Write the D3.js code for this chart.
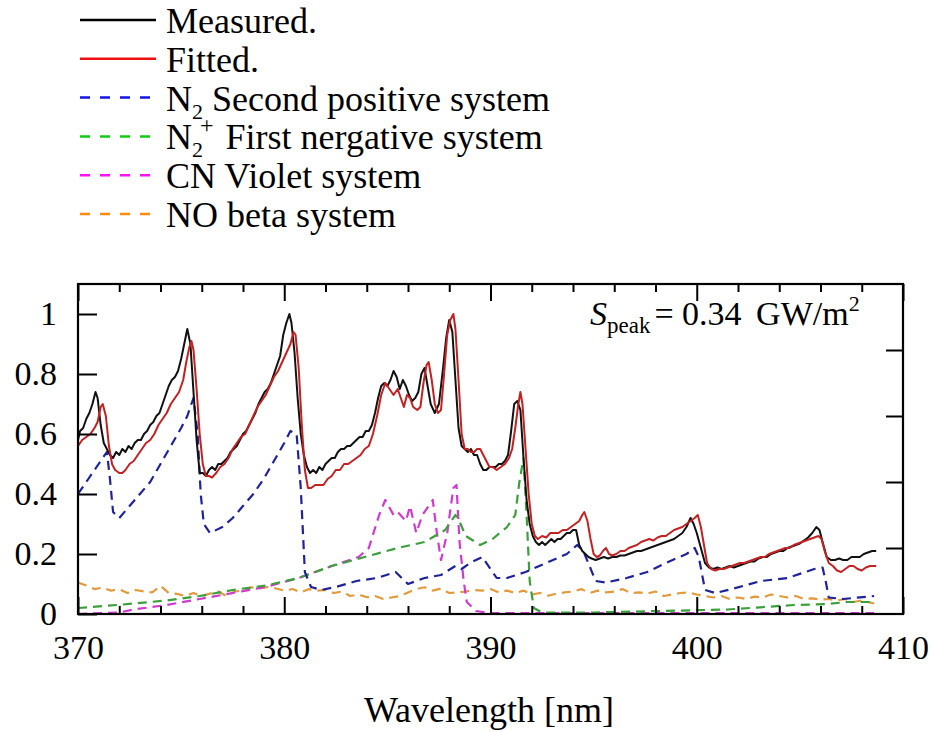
<!DOCTYPE html>
<html><head><meta charset="utf-8">
<script src="https://cdn.jsdelivr.net/npm/d3@7"></script>
<style>body{margin:0;background:#fff}svg{display:block}text{font-family:"Liberation Serif","Times New Roman",serif;fill:#000}</style>
</head><body><svg id="c" width="933" height="732"></svg>
<script>
// ---- data (wavelength nm, normalized intensity) ----
const measured = [[370.0,0.58],[370.1,0.61],[370.25,0.62],[370.4,0.65],[370.55,0.67],[370.7,0.70],[370.85,0.74],[370.95,0.72],[371.1,0.63],[371.25,0.57],[371.4,0.55],[371.55,0.53],[371.7,0.52],[371.85,0.54],[372.0,0.53],[372.15,0.55],[372.3,0.54],[372.45,0.56],[372.6,0.55],[372.75,0.57],[372.9,0.58],[373.05,0.58],[373.2,0.60],[373.35,0.61],[373.5,0.63],[373.65,0.64],[373.8,0.66],[373.95,0.67],[374.1,0.70],[374.25,0.73],[374.4,0.76],[374.55,0.78],[374.7,0.79],[374.85,0.81],[375.0,0.85],[375.15,0.90],[375.3,0.95],[375.45,0.90],[375.6,0.74],[375.75,0.58],[375.9,0.47],[376.05,0.47],[376.2,0.46],[376.35,0.48],[376.5,0.49],[376.65,0.48],[376.8,0.50],[376.95,0.50],[377.1,0.51],[377.25,0.52],[377.4,0.54],[377.55,0.55],[377.7,0.56],[377.85,0.58],[378.0,0.60],[378.15,0.61],[378.3,0.63],[378.45,0.65],[378.6,0.67],[378.75,0.70],[378.9,0.72],[379.05,0.74],[379.2,0.75],[379.35,0.77],[379.5,0.80],[379.65,0.83],[379.8,0.86],[379.95,0.93],[380.1,0.97],[380.25,1.00],[380.35,0.97],[380.5,0.87],[380.65,0.72],[380.8,0.60],[380.95,0.53],[381.1,0.49],[381.25,0.47],[381.4,0.48],[381.55,0.47],[381.7,0.49],[381.85,0.48],[382.0,0.50],[382.15,0.51],[382.3,0.52],[382.45,0.52],[382.6,0.54],[382.75,0.55],[382.9,0.55],[383.05,0.56],[383.2,0.56],[383.35,0.57],[383.5,0.58],[383.65,0.59],[383.8,0.59],[383.95,0.61],[384.1,0.61],[384.25,0.63],[384.4,0.67],[384.55,0.72],[384.7,0.76],[384.85,0.77],[385.0,0.76],[385.15,0.78],[385.3,0.81],[385.45,0.79],[385.6,0.75],[385.75,0.78],[385.9,0.76],[386.05,0.73],[386.2,0.71],[386.35,0.72],[386.5,0.74],[386.65,0.80],[386.8,0.82],[386.95,0.76],[387.1,0.70],[387.3,0.67],[387.5,0.70],[387.7,0.82],[387.85,0.92],[388.0,0.98],[388.15,0.94],[388.3,0.78],[388.45,0.62],[388.6,0.56],[388.75,0.55],[388.9,0.54],[389.05,0.55],[389.2,0.53],[389.35,0.53],[389.5,0.50],[389.65,0.48],[389.8,0.48],[389.95,0.49],[390.1,0.49],[390.25,0.49],[390.4,0.50],[390.55,0.50],[390.7,0.51],[390.85,0.53],[391.0,0.61],[391.15,0.70],[391.3,0.71],[391.45,0.68],[391.6,0.52],[391.75,0.38],[391.9,0.30],[392.05,0.26],[392.2,0.24],[392.35,0.23],[392.5,0.24],[392.65,0.23],[392.8,0.24],[392.95,0.25],[393.1,0.24],[393.25,0.25],[393.4,0.25],[393.55,0.26],[393.7,0.27],[393.85,0.27],[394.0,0.28],[394.15,0.28],[394.3,0.23],[394.45,0.21],[394.6,0.20],[394.75,0.19],[394.9,0.185],[395.1,0.18],[395.3,0.185],[395.5,0.19],[395.7,0.185],[395.9,0.19],[396.1,0.19],[396.3,0.195],[396.5,0.195],[396.7,0.20],[396.9,0.205],[397.1,0.21],[397.3,0.21],[397.5,0.215],[397.7,0.22],[397.9,0.225],[398.1,0.23],[398.3,0.235],[398.5,0.24],[398.7,0.245],[398.9,0.25],[399.1,0.26],[399.3,0.27],[399.5,0.29],[399.7,0.32],[399.85,0.30],[400.0,0.27],[400.2,0.22],[400.4,0.17],[400.6,0.155],[400.8,0.15],[401.0,0.155],[401.2,0.15],[401.4,0.155],[401.6,0.16],[401.8,0.155],[402.0,0.16],[402.2,0.165],[402.4,0.17],[402.6,0.175],[402.8,0.175],[403.0,0.185],[403.2,0.19],[403.4,0.19],[403.6,0.20],[403.8,0.205],[404.0,0.21],[404.2,0.21],[404.4,0.22],[404.6,0.225],[404.8,0.23],[405.0,0.235],[405.2,0.245],[405.4,0.255],[405.6,0.27],[405.8,0.29],[405.95,0.28],[406.1,0.24],[406.3,0.19],[406.5,0.18],[406.7,0.18],[406.9,0.185],[407.1,0.18],[407.3,0.18],[407.5,0.19],[407.7,0.19],[407.9,0.19],[408.1,0.20],[408.3,0.205],[408.5,0.21],[408.7,0.21]];

const fitted = [[370.0,0.56],[370.2,0.58],[370.4,0.59],[370.6,0.60],[370.8,0.62],[370.95,0.64],[371.1,0.69],[371.2,0.70],[371.35,0.66],[371.5,0.56],[371.65,0.50],[371.8,0.48],[372.0,0.47],[372.15,0.47],[372.3,0.48],[372.5,0.50],[372.7,0.51],[372.9,0.53],[373.1,0.55],[373.3,0.57],[373.5,0.58],[373.7,0.60],[373.9,0.63],[374.1,0.65],[374.3,0.67],[374.5,0.70],[374.7,0.72],[374.9,0.74],[375.1,0.78],[375.25,0.84],[375.4,0.89],[375.5,0.91],[375.6,0.88],[375.75,0.75],[375.9,0.60],[376.05,0.50],[376.2,0.46],[376.35,0.46],[376.5,0.455],[376.7,0.47],[376.9,0.49],[377.1,0.50],[377.3,0.52],[377.5,0.55],[377.7,0.57],[377.9,0.59],[378.1,0.60],[378.3,0.63],[378.5,0.66],[378.7,0.69],[378.9,0.71],[379.1,0.73],[379.3,0.76],[379.5,0.79],[379.7,0.81],[379.9,0.84],[380.1,0.87],[380.3,0.90],[380.45,0.94],[380.55,0.93],[380.7,0.82],[380.85,0.63],[381.0,0.48],[381.15,0.42],[381.3,0.42],[381.5,0.43],[381.7,0.43],[381.9,0.43],[382.1,0.45],[382.3,0.46],[382.5,0.48],[382.7,0.48],[382.9,0.50],[383.1,0.50],[383.3,0.51],[383.5,0.52],[383.7,0.53],[383.9,0.55],[384.1,0.56],[384.3,0.60],[384.5,0.66],[384.7,0.73],[384.9,0.77],[385.1,0.75],[385.3,0.73],[385.5,0.75],[385.65,0.72],[385.8,0.69],[385.95,0.73],[386.1,0.72],[386.25,0.69],[386.45,0.68],[386.6,0.69],[386.75,0.77],[386.9,0.83],[387.0,0.84],[387.15,0.78],[387.3,0.70],[387.45,0.67],[387.6,0.68],[387.75,0.80],[387.9,0.93],[388.05,0.98],[388.2,1.00],[388.3,0.95],[388.45,0.78],[388.6,0.60],[388.75,0.55],[388.9,0.55],[389.05,0.54],[389.2,0.54],[389.35,0.55],[389.5,0.55],[389.65,0.53],[389.8,0.51],[389.95,0.49],[390.1,0.49],[390.3,0.48],[390.5,0.49],[390.7,0.50],[390.9,0.52],[391.05,0.55],[391.2,0.62],[391.35,0.70],[391.45,0.74],[391.55,0.70],[391.7,0.55],[391.85,0.40],[392.0,0.30],[392.15,0.26],[392.3,0.25],[392.5,0.26],[392.7,0.255],[392.9,0.27],[393.1,0.27],[393.3,0.27],[393.5,0.28],[393.7,0.28],[393.9,0.29],[394.1,0.30],[394.3,0.31],[394.45,0.33],[394.55,0.34],[394.7,0.31],[394.85,0.25],[395.0,0.20],[395.15,0.19],[395.3,0.195],[395.45,0.21],[395.6,0.22],[395.75,0.20],[395.9,0.195],[396.1,0.20],[396.3,0.21],[396.5,0.21],[396.7,0.22],[396.9,0.225],[397.1,0.23],[397.3,0.24],[397.5,0.245],[397.7,0.25],[397.9,0.245],[398.1,0.255],[398.3,0.26],[398.5,0.26],[398.7,0.27],[398.9,0.28],[399.1,0.285],[399.3,0.29],[399.5,0.30],[399.7,0.31],[399.9,0.32],[400.05,0.33],[400.2,0.29],[400.35,0.23],[400.5,0.17],[400.7,0.15],[400.9,0.145],[401.1,0.15],[401.3,0.15],[401.5,0.155],[401.7,0.16],[401.9,0.165],[402.1,0.17],[402.3,0.17],[402.5,0.175],[402.7,0.18],[402.9,0.185],[403.1,0.19],[403.3,0.19],[403.5,0.20],[403.7,0.205],[403.9,0.21],[404.1,0.215],[404.3,0.22],[404.5,0.22],[404.7,0.23],[404.9,0.235],[405.1,0.24],[405.3,0.245],[405.5,0.25],[405.7,0.255],[405.9,0.26],[406.05,0.25],[406.2,0.21],[406.4,0.17],[406.6,0.16],[406.8,0.145],[407.0,0.14],[407.2,0.15],[407.4,0.16],[407.6,0.16],[407.8,0.15],[408.0,0.145],[408.2,0.155],[408.4,0.16],[408.7,0.16]];

const n2Second = [[370.0,0.40],[370.5,0.45],[370.9,0.49],[371.4,0.54],[371.55,0.45],[371.7,0.34],[372.0,0.32],[372.5,0.36],[373.0,0.40],[373.5,0.44],[374.0,0.50],[374.5,0.56],[375.0,0.62],[375.3,0.66],[375.6,0.72],[375.8,0.60],[375.95,0.40],[376.1,0.30],[376.4,0.27],[377.0,0.29],[377.5,0.32],[378.0,0.36],[378.5,0.40],[379.0,0.45],[379.5,0.51],[380.0,0.57],[380.3,0.61],[380.6,0.60],[380.8,0.42],[381.0,0.14],[381.3,0.09],[381.8,0.08],[382.5,0.09],[383.5,0.11],[384.5,0.12],[385.4,0.14],[385.7,0.12],[386.0,0.10],[386.8,0.12],[387.6,0.13],[388.3,0.16],[388.6,0.15],[389.0,0.17],[389.6,0.19],[390.0,0.15],[390.3,0.12],[390.8,0.12],[391.7,0.14],[392.7,0.17],[393.7,0.20],[394.2,0.23],[394.5,0.21],[394.8,0.16],[395.1,0.11],[395.6,0.105],[396.6,0.12],[397.6,0.14],[398.5,0.17],[399.5,0.20],[399.9,0.22],[400.1,0.19],[400.4,0.08],[400.9,0.07],[401.8,0.085],[403.1,0.11],[404.4,0.12],[405.7,0.15],[406.1,0.155],[406.25,0.11],[406.4,0.055],[407.1,0.05],[408.6,0.06]];

const n2First = [[370.0,0.02],[371.9,0.03],[374.3,0.045],[375.9,0.06],[377.5,0.08],[379.1,0.095],[380.7,0.12],[382.3,0.16],[383.9,0.19],[385.5,0.22],[386.8,0.24],[387.8,0.28],[388.3,0.33],[388.55,0.30],[388.8,0.26],[389.5,0.23],[390.1,0.25],[390.8,0.29],[391.2,0.33],[391.4,0.44],[391.6,0.52],[391.75,0.33],[391.9,0.11],[392.1,0.02],[392.5,0.005],[395.0,0.005],[398.2,0.01],[401.5,0.015],[404.7,0.03],[406.3,0.033],[407.3,0.04],[408.6,0.04]];

const cnViolet = [[370.0,0.0],[372.0,0.005],[372.7,0.015],[374.3,0.03],[375.9,0.05],[377.5,0.07],[379.1,0.09],[380.7,0.12],[382.3,0.16],[383.6,0.19],[384.1,0.22],[384.6,0.33],[384.9,0.38],[385.3,0.33],[385.5,0.34],[385.9,0.31],[386.1,0.36],[386.4,0.27],[386.7,0.33],[387.2,0.38],[387.4,0.27],[387.6,0.18],[387.9,0.27],[388.2,0.42],[388.35,0.43],[388.5,0.24],[388.7,0.11],[388.85,0.04],[389.3,0.01],[390.0,0.003],[408.6,0.003]];

const noBeta = [[370.0,0.105],[370.4,0.095],[370.8,0.083],[371.2,0.088],[371.6,0.078],[372.0,0.082],[372.4,0.07],[372.8,0.08],[373.2,0.075],[373.6,0.072],[374.0,0.094],[374.4,0.07],[374.8,0.067],[375.2,0.06],[375.6,0.07],[376.0,0.06],[376.4,0.068],[376.8,0.075],[377.2,0.06],[377.6,0.075],[378.0,0.078],[378.4,0.089],[378.8,0.085],[379.2,0.09],[379.6,0.085],[380.0,0.078],[380.4,0.083],[380.8,0.072],[381.2,0.083],[381.6,0.078],[382.0,0.08],[382.4,0.07],[382.8,0.075],[383.2,0.06],[383.6,0.065],[384.0,0.056],[384.4,0.06],[384.8,0.05],[385.2,0.055],[385.6,0.06],[386.0,0.072],[386.4,0.083],[386.8,0.089],[387.2,0.078],[387.6,0.085],[388.0,0.07],[388.4,0.072],[388.8,0.075],[389.2,0.08],[389.6,0.078],[390.0,0.083],[390.4,0.072],[390.8,0.078],[391.2,0.07],[391.6,0.078],[392.0,0.065],[392.4,0.07],[392.8,0.061],[393.2,0.068],[393.6,0.072],[394.0,0.075],[394.4,0.083],[394.8,0.07],[395.2,0.078],[395.6,0.072],[396.0,0.075],[396.4,0.083],[396.8,0.07],[397.2,0.072],[397.6,0.068],[398.0,0.075],[398.4,0.06],[398.8,0.065],[399.2,0.07],[399.6,0.072],[400.0,0.065],[400.4,0.06],[400.8,0.055],[401.2,0.06],[401.6,0.05],[402.0,0.055],[402.4,0.05],[402.8,0.058],[403.2,0.055],[403.6,0.065],[404.0,0.06],[404.4,0.055],[404.8,0.06],[405.2,0.05],[405.6,0.052],[406.0,0.048],[406.4,0.05],[406.8,0.045],[407.2,0.05],[407.6,0.04],[408.0,0.045],[408.6,0.035]];

const xMajorTicks = [370, 380, 390, 400, 410];
const xMinorTicks = [372,374,376,378,382,384,386,388,392,394,396,398,402,404,406,408];
const yTicks = [0, 0.2, 0.4, 0.6, 0.8, 1];
const yRightTicks = [0.22, 0.44, 0.66, 0.88];
const xTitle = "Wavelength [nm]";

// ---- series styling ----
const series = [
  {data: measured, color: "#111111", legend: "#000000", dash: null},
  {data: fitted,   color: "#c42222", legend: "#ee1111", dash: null},
  {data: n2Second, color: "#1f239a", legend: "#1515e8", dash: "9,6"},
  {data: n2First,  color: "#3aa03a", legend: "#12cc12", dash: "9,6"},
  {data: cnViolet, color: "#d03ad0", legend: "#ff10ff", dash: "9,6"},
  {data: noBeta,   color: "#e39a3a", legend: "#ff8a10", dash: "9,6"}
];
const legendLabels = [
  [{t:"Measured."}],
  [{t:"Fitted."}],
  [{t:"N"},{t:"2",sub:true},{t:" Second positive system"}],
  [{t:"N"},{t:"2",sub:true},{t:"+",sup:true},{t:" First nergative system"}],
  [{t:"CN Violet system"}],
  [{t:"NO beta system"}]
];

const svg = d3.select("#c");
const x = d3.scaleLinear().domain([370, 410]).range([78, 903]);
const y = d3.scaleLinear().domain([0, 1.1]).range([614, 284]);

svg.append("clipPath").attr("id","pc").append("rect")
  .attr("x",78).attr("y",284).attr("width",825).attr("height",330);

const line = d3.line().x(d => x(d[0])).y(d => y(d[1]));
const plot = svg.append("g").attr("clip-path","url(#pc)");
[5,4,3,2,0,1].forEach(i => {
  const s = series[i];
  plot.append("path").datum(s.data)
    .attr("fill","none").attr("stroke",s.color)
    .attr("stroke-width", s.dash ? 2.2 : 2)
    .attr("stroke-dasharray", s.dash)
    .attr("stroke-linejoin","round")
    .attr("d", line);
});

// axes
const fontTick = 34;
function styleAxis(g){ g.select(".domain").remove(); g.selectAll("line").attr("stroke","#000").attr("stroke-width",2);
  g.selectAll("text").attr("font-size",fontTick).attr("font-family","'Liberation Serif','Times New Roman',serif").attr("fill","#000"); }

svg.append("g").attr("transform","translate(0,614)")
  .call(d3.axisBottom(x).tickValues(xMajorTicks).tickSize(-17).tickPadding(21).tickFormat(d3.format("d"))).call(styleAxis);
svg.append("g").attr("transform","translate(0,614)")
  .call(d3.axisBottom(x).tickValues(xMinorTicks).tickSize(-8).tickFormat("")).call(styleAxis);
svg.append("g").attr("transform","translate(0,284)")
  .call(d3.axisTop(x).tickValues(xMajorTicks).tickSize(-17).tickFormat("")).call(styleAxis);
svg.append("g").attr("transform","translate(0,284)")
  .call(d3.axisTop(x).tickValues(xMinorTicks).tickSize(-8).tickFormat("")).call(styleAxis);
svg.append("g").attr("transform","translate(78,0)")
  .call(d3.axisLeft(y).tickValues(yTicks).tickSize(-19).tickPadding(21).tickFormat(d => d===0||d===1 ? String(d) : d3.format(".1f")(d))).call(styleAxis);
svg.append("g").attr("transform","translate(903,0)")
  .call(d3.axisRight(y).tickValues(yRightTicks).tickSize(-17).tickFormat("")).call(styleAxis);

svg.append("rect").attr("x",78).attr("y",284).attr("width",825).attr("height",330)
  .attr("fill","none").attr("stroke","#000").attr("stroke-width",2.2);

// x title
svg.append("text").attr("x",489).attr("y",722).attr("text-anchor","middle")
  .attr("font-size",36).text(xTitle);

// annotation
const ann = svg.append("text").attr("x",590).attr("y",325).attr("font-size",34);
ann.append("tspan").attr("font-style","italic").text("S");
ann.append("tspan").attr("font-size",23).attr("dy",8).text("peak");
ann.append("tspan").attr("dy",-8).attr("dx",4).text("= 0.34");
ann.append("tspan").attr("dx",6).text(" GW/m");
ann.append("tspan").attr("font-size",22).attr("dy",-14).text("2");

// legend
const legY0 = 20, legStep = 38.8;
series.forEach((s,i) => {
  const ly = legY0 + i*legStep;
  svg.append("line").attr("x1",80).attr("x2",156).attr("y1",ly).attr("y2",ly)
    .attr("stroke",s.legend).attr("stroke-width",2.5).attr("stroke-dasharray", s.dash ? "10,10" : null);
  const t = svg.append("text").attr("x",166).attr("y",ly+13).attr("font-size",36);
  let shift = 0, afterSup = false;
  legendLabels[i].forEach(seg => {
    const sp = t.append("tspan").text(seg.t);
    if (seg.sub) { sp.attr("font-size",22).attr("dy",8-shift); shift = 8; }
    else if (seg.sup) { sp.attr("font-size",24).attr("dx",-3).attr("dy",-16-shift); shift = -16; afterSup = true; }
    else { if (shift!==0) sp.attr("dy",-shift); if (afterSup) sp.attr("dx",3); shift = 0; afterSup = false; }
  });
});
</script></body></html>
